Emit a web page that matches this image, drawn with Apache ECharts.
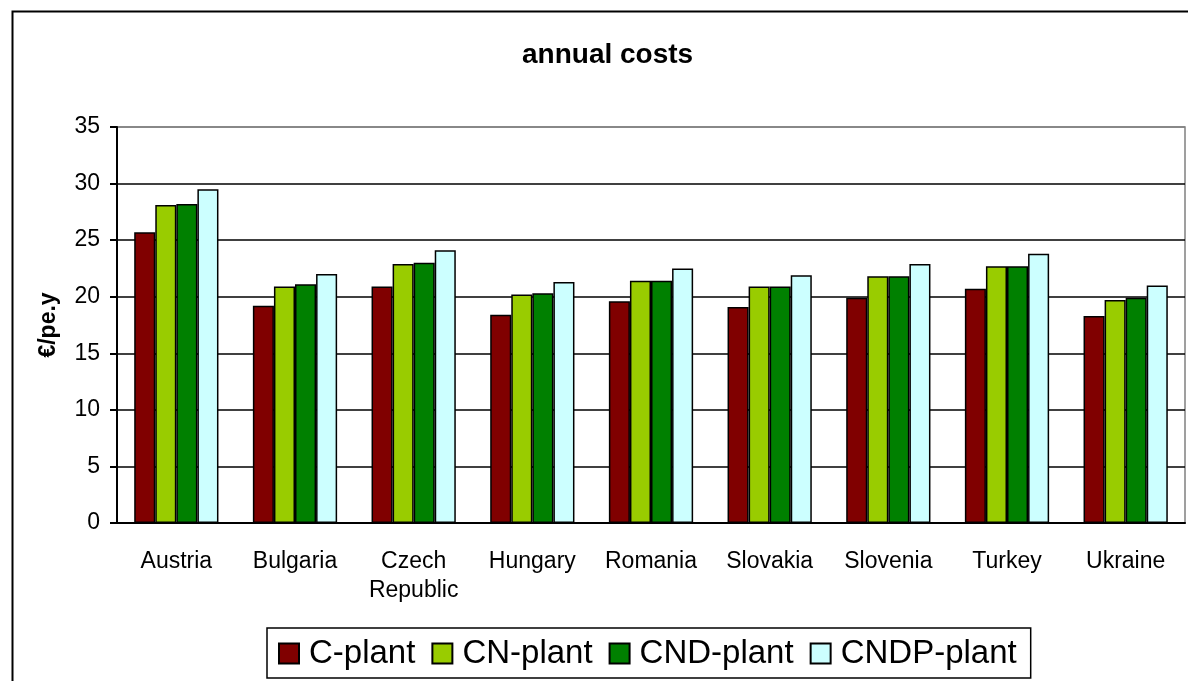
<!DOCTYPE html>
<html>
<head>
<meta charset="utf-8">
<script src="https://cdn.jsdelivr.net/npm/echarts@6/dist/echarts.min.js"></script>
<style>
  html, body { margin: 0; padding: 0; background: #fff; }
  #chart { width: 1188px; height: 681px; }
</style>
</head>
<body>
<div id="chart"></div>
<script>
// categories and series values (€/pe.y)
var countries = ['Austria', 'Bulgaria', 'Czech\nRepublic', 'Hungary', 'Romania', 'Slovakia', 'Slovenia', 'Turkey', 'Ukraine'];
var cPlant    = [25.7, 19.2, 20.9, 18.4, 19.6, 19.1, 19.9, 20.7, 18.3];
var cnPlant   = [28.1, 20.9, 22.9, 20.2, 21.4, 20.9, 21.8, 22.7, 19.7];
var cndPlant  = [28.2, 21.1, 23.0, 20.3, 21.4, 20.9, 21.8, 22.7, 19.9];
var cndpPlant = [29.5, 22.0, 24.1, 21.3, 22.5, 21.9, 22.9, 23.8, 21.0];
var yTicks = [0, 5, 10, 15, 20, 25, 30, 35];

var font = '"Liberation Sans", Arial, sans-serif';

var myChart = echarts.init(document.getElementById('chart'));

function barSeries (name, color, data) {
  return {
    name: name,
    type: 'bar',
    barGap: 0,
    barCategoryGap: '29%',
    itemStyle: { color: color, borderColor: '#000', borderWidth: 1.5 },
    data: data
  }
}

var option = {
  backgroundColor: '#fff',
  animation: false,
  textStyle: { fontFamily: font },
  graphic: [{
    type: 'rect',
    left: 10, top: 9,
    shape: { width: 1300, height: 800 },
    style: { fill: 'none', stroke: '#000', lineWidth: 2 },
    z: -1
  }],
  title: {
    text: 'annual costs',
    left: 517,
    top: 36,
    textStyle: { fontFamily: font, fontSize: 28, fontWeight: 'bold', color: '#000' }
  },
  legend: {
    left: 267,
    top: 628,
    icon: 'rect',
    itemWidth: 20,
    itemHeight: 20,
    itemGap: 16,
    padding: [9, 14, 8, 11],
    borderColor: '#000',
    borderWidth: 1.5,
    textStyle: { fontFamily: font, fontSize: 33, color: '#000', padding: [0, 0, 0, 5] },
    data: ['C-plant', 'CN-plant', 'CND-plant', 'CNDP-plant']
  },
  grid: {
    left: 117,
    right: 3,
    top: 127,
    bottom: 158,
    show: true,
    borderColor: '#808080',
    borderWidth: 1.5
  },
  xAxis: {
    type: 'category',
    data: countries,
    axisLine: { lineStyle: { color: '#000', width: 2 } },
    axisTick: { interval: 0, length: 6, lineStyle: { color: '#000', width: 2 } },
    axisLabel: { interval: 0, color: '#000', fontSize: 23, margin: 24, lineHeight: 29, fontFamily: font }
  },
  yAxis: {
    type: 'value',
    min: yTicks[0],
    max: yTicks[yTicks.length - 1],
    interval: 5,
    name: '€/pe.y',
    nameLocation: 'middle',
    nameGap: 57,
    nameTextStyle: { color: '#000', fontSize: 23, fontWeight: 'bold', fontFamily: font },
    axisLine: { show: true, lineStyle: { color: '#000', width: 2 } },
    axisTick: { show: true, length: 7, lineStyle: { color: '#000', width: 2 } },
    axisLabel: { color: '#000', fontSize: 23, margin: 17, fontFamily: font },
    splitLine: {
      lineStyle: {
        color: ['#000', '#000', '#000', '#000', '#000', '#000', '#000', '#808080'],
        width: 1.5
      }
    }
  },
  series: [
    barSeries('C-plant', '#800000', cPlant),
    barSeries('CN-plant', '#99CC00', cnPlant),
    barSeries('CND-plant', '#008000', cndPlant),
    barSeries('CNDP-plant', '#CCFFFF', cndpPlant)
  ]
};

myChart.setOption(option);
</script>
</body>
</html>
